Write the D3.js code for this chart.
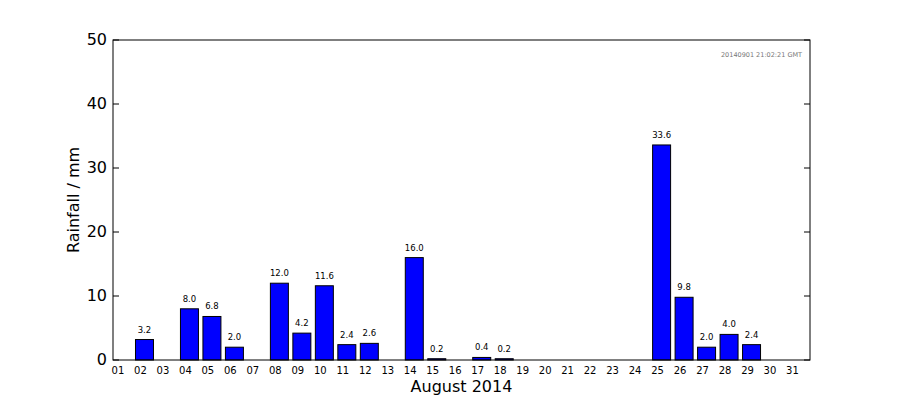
<!DOCTYPE html>
<html><head><meta charset="utf-8">
<script src="https://cdn.jsdelivr.net/npm/d3@7"></script>
<style>body{margin:0;background:#fff}svg{font-family:"DejaVu Sans",sans-serif}</style>
</head><body><svg width="900" height="400"></svg>
<script>
var days = d3.range(1, 32).map(d => (d < 10 ? '0' : '') + d)
var rain = [0, 3.2, 0, 8.0, 6.8, 2.0, 0, 12.0, 4.2, 11.6, 2.4, 2.6, 0, 16.0, 0.2, 0, 0.4, 0.2,
  0, 0, 0, 0, 0, 0, 33.6, 9.8, 2.0, 4.0, 2.4, 0, 0]
var yTicks = [0, 10, 20, 30, 40, 50]
var stamp = '20140901 21:02:21 GMT'

var svg = d3.select('svg')
var L = 113, R = 810, T = 40, B = 360

var x = d3.scaleLinear().domain([0, 31]).range([L, R])
var y = d3.scaleLinear().domain([0, 50]).range([B, T])

svg.append('g').selectAll('rect').data(rain).enter().append('rect')
  .attr('x', (d, i) => x(i))
  .attr('y', d => y(d))
  .attr('width', x(0.8) - x(0))
  .attr('height', d => y(0) - y(d))
  .attr('fill', '#0000ff').attr('stroke', '#000').attr('stroke-width', 1)

svg.append('g').selectAll('text').data(rain).enter().filter(d => d > 0).append('text')
  .attr('x', (d, i) => x(rain.indexOf(d) === i ? i + 0.4 : i + 0.4))
  .attr('y', d => y(d) - 7)
  .attr('text-anchor', 'middle').attr('font-size', 8.5)
  .text(d => d.toFixed(1))
// fix x positions for value labels (filter loses index)
svg.selectAll('g:nth-of-type(2) text').remove()
svg.append('g').selectAll('text').data(rain.map((v, i) => [v, i]).filter(d => d[0] > 0))
  .enter().append('text')
  .attr('x', d => x(d[1] + 0.4))
  .attr('y', d => y(d[0]) - 7)
  .attr('text-anchor', 'middle').attr('font-size', 8.5)
  .text(d => d[0].toFixed(1))

svg.append('rect').attr('x', L).attr('y', T).attr('width', R - L).attr('height', B - T)
  .attr('fill', 'none').attr('stroke', '#000')

var ya = svg.append('g')
yTicks.forEach(t => {
  ya.append('line').attr('x1', L).attr('x2', L + 6).attr('y1', y(t)).attr('y2', y(t)).attr('stroke', '#000')
  ya.append('line').attr('x1', R).attr('x2', R - 6).attr('y1', y(t)).attr('y2', y(t)).attr('stroke', '#000')
  ya.append('text').attr('x', L - 6).attr('y', y(t) + 5).attr('text-anchor', 'end')
    .attr('font-size', 16).text(t)
})

svg.append('g').selectAll('text').data(days).enter().append('text')
  .attr('x', (d, i) => x(i + 0.22))
  .attr('y', 374).attr('text-anchor', 'middle').attr('font-size', 10).text(d => d)

svg.append('text').attr('x', (L + R) / 2).attr('y', 392).attr('text-anchor', 'middle')
  .attr('font-size', 16).text('August 2014')
svg.append('text').attr('transform', 'translate(79,' + (T + B) / 2 + ') rotate(-90)')
  .attr('text-anchor', 'middle').attr('font-size', 16).text('Rainfall / mm')
svg.append('text').attr('x', R - 8).attr('y', T + 17).attr('text-anchor', 'end')
  .attr('font-size', 6.5).attr('fill', '#777').text(stamp)
</script></body></html>
